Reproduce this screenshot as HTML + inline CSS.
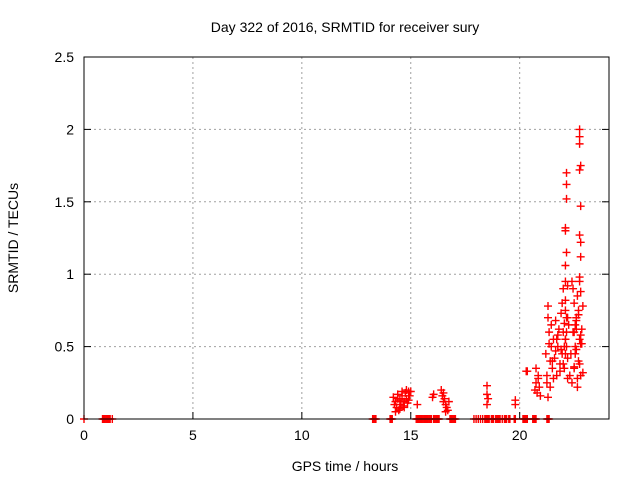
<!DOCTYPE html>
<html><head><meta charset="utf-8"><style>
body{margin:0;background:#fff}
svg text{font-family:"Liberation Sans",sans-serif;font-size:14px;fill:#000}
</style></head><body>
<svg id="chart" width="640" height="480" xmlns="http://www.w3.org/2000/svg">
<rect width="640" height="480" fill="#fff"/>
<text x="345" y="32" text-anchor="middle">Day 322 of 2016, SRMTID for receiver sury</text>
<text x="345" y="471" text-anchor="middle">GPS time / hours</text>
<text x="18" y="238" text-anchor="middle" transform="rotate(-90 18 238)">SRMTID / TECUs</text>
<g id="grid"></g><g id="ticks"></g><g id="marks"></g>
<rect x="84" y="57" width="525" height="362" fill="none" stroke="#000" stroke-width="1"/>
</svg>
<script>
const xTicks=[0,5,10,15,20];
const yTicks=[0,0.5,1,1.5,2,2.5];
const yTickLabels=["0","0.5","1","1.5","2","2.5"];
const zeroTimes=[0,0.85,0.9,0.95,1.0,1.05,1.1,1.15,1.2,1.3,13.25,13.3,13.35,13.4,14.05,14.1,14.15,15.25,15.3,15.35,15.4,15.45,15.5,15.55,15.6,15.65,15.7,15.75,15.8,15.85,15.9,15.95,16.05,16.1,16.15,16.2,16.25,16.3,16.8,16.85,16.9,16.95,17.0,17.05,17.9,18.0,18.1,18.2,18.3,18.4,18.45,18.5,18.55,18.6,18.7,18.75,18.8,18.9,18.95,19.0,19.05,19.1,19.2,19.3,19.35,19.4,19.5,19.55,19.75,19.8,20.15,20.2,20.25,20.3,20.35,20.6,20.65,20.7,20.75,21.25,21.3,21.35];
const times=[14.2,14.25,14.3,14.35,14.4,14.45,14.5,14.55,14.6,14.65,14.7,14.75,14.8,14.85,14.9,14.95,14.3,14.5,14.7,14.9,14.4,14.6,14.8,15.0,15.3,16.0,16.05,16.4,16.45,16.5,16.55,16.6,16.65,16.7,16.75,16.5,16.6,18.5,18.5,18.55,18.5,19.8,19.8,20.3,20.35,20.7,20.75,20.8,20.85,20.9,20.95,20.75,20.85,21.2,21.25,21.3,21.35,21.4,21.45,21.3,21.4,21.5,21.55,21.6,21.65,21.7,21.75,21.8,21.85,21.9,21.95,21.25,21.35,21.45,21.55,21.65,21.75,21.85,21.95,21.3,21.5,21.7,21.9,22.0,22.05,22.1,22.15,22.2,22.25,22.0,22.1,22.2,22.05,22.15,22.1,22.15,22.1,22.0,22.05,22.2,22.1,22.3,22.35,22.4,22.45,22.5,22.55,22.6,22.65,22.7,22.75,22.8,22.85,22.4,22.5,22.6,22.7,22.8,22.45,22.55,22.65,22.75,22.85,22.6,22.7,22.75,22.8,22.5,22.6,22.9,22.55,22.65,22.8,22.9,22.5,22.6];
const values=[0.15,0.1,0.12,0.08,0.14,0.06,0.13,0.1,0.16,0.09,0.12,0.18,0.14,0.11,0.19,0.16,0.05,0.07,0.08,0.13,0.17,0.19,0.2,0.19,0.1,0.15,0.17,0.2,0.16,0.12,0.14,0.1,0.08,0.06,0.12,0.18,0.05,0.23,0.17,0.14,0.1,0.13,0.1,0.33,0.33,0.2,0.25,0.18,0.3,0.22,0.16,0.35,0.28,0.45,0.3,0.78,0.6,0.4,0.5,0.15,0.22,0.35,0.55,0.42,0.68,0.3,0.5,0.62,0.38,0.73,0.45,0.25,0.52,0.65,0.28,0.47,0.58,0.33,0.8,0.7,0.4,0.55,0.48,0.6,0.35,0.75,0.5,0.28,0.65,0.9,0.82,0.42,0.5,0.6,0.55,0.7,0.45,0.38,0.66,0.7,0.55,0.3,0.45,0.25,0.6,0.35,0.5,0.7,0.85,0.4,0.55,0.3,0.62,0.95,0.8,0.48,0.72,0.58,0.9,0.65,0.22,0.38,0.52,0.68,0.75,0.95,0.88,0.6,0.7,0.32,0.45,0.28,0.52,0.78,0.36,0.62,0.35,0.42];
const peakTimes=[22.75,22.75,22.75,22.8,22.75,22.8,22.75,22.8,22.8,22.75,22.15,22.15,22.15,22.1,22.1,22.15,22.1,22.1,22.2];
const peakValues=[2.0,1.95,1.9,1.75,1.72,1.47,1.27,1.22,1.12,0.98,1.7,1.62,1.52,1.32,1.3,1.15,1.06,0.95,0.92];
const X=v=>84+v*(525/24.1), Y=v=>419-v*144.8;
const ns="http://www.w3.org/2000/svg";
function mk(tag,attrs,parent){const e=document.createElementNS(ns,tag);for(const k in attrs)e.setAttribute(k,attrs[k]);parent.appendChild(e);return e;}
const grid=document.getElementById('grid'),tk=document.getElementById('ticks'),mg=document.getElementById('marks');
xTicks.forEach(t=>{const x=X(t);
 if(t>0){const g=mk('line',{x1:x,x2:x,y1:57,y2:419,stroke:'#a0a0a0','stroke-dasharray':'2,3'},grid);
 
 }
 mk('line',{x1:x,x2:x,y1:419,y2:412,stroke:'#000'},tk);
 const l=mk('text',{x:x,y:440,'text-anchor':'middle'},tk);l.textContent=t;
 
 });
yTicks.forEach((t,i)=>{const y=Y(t);
 if(t>0&&t<2.5){const g=mk('line',{x1:84,x2:609,y1:y,y2:y,stroke:'#a0a0a0','stroke-dasharray':'2,3'},grid);
 
 }
 mk('line',{x1:84,x2:91,y1:y,y2:y,stroke:'#000'},tk);
 mk('line',{x1:602,x2:609,y1:y,y2:y,stroke:'#000'},tk);
 const l=mk('text',{x:74,y:y+5,'text-anchor':'end'},tk);l.textContent=yTickLabels[i];
 
 });
function plus(t,v){const x=X(t),y=Y(v);
 const p=mk('path',{d:`M${x-4},${y}h8M${x},${y-4}v8`,stroke:'#f00','stroke-width':1.4,fill:'none'},mg);
 
 }
zeroTimes.forEach(t=>plus(t,0));
const n=Math.min(times.length,values.length);
for(let i=0;i<n;i++)plus(times[i],values[i]);
peakTimes.forEach((t,i)=>plus(t,peakValues[i]));
</script>
</body></html>
